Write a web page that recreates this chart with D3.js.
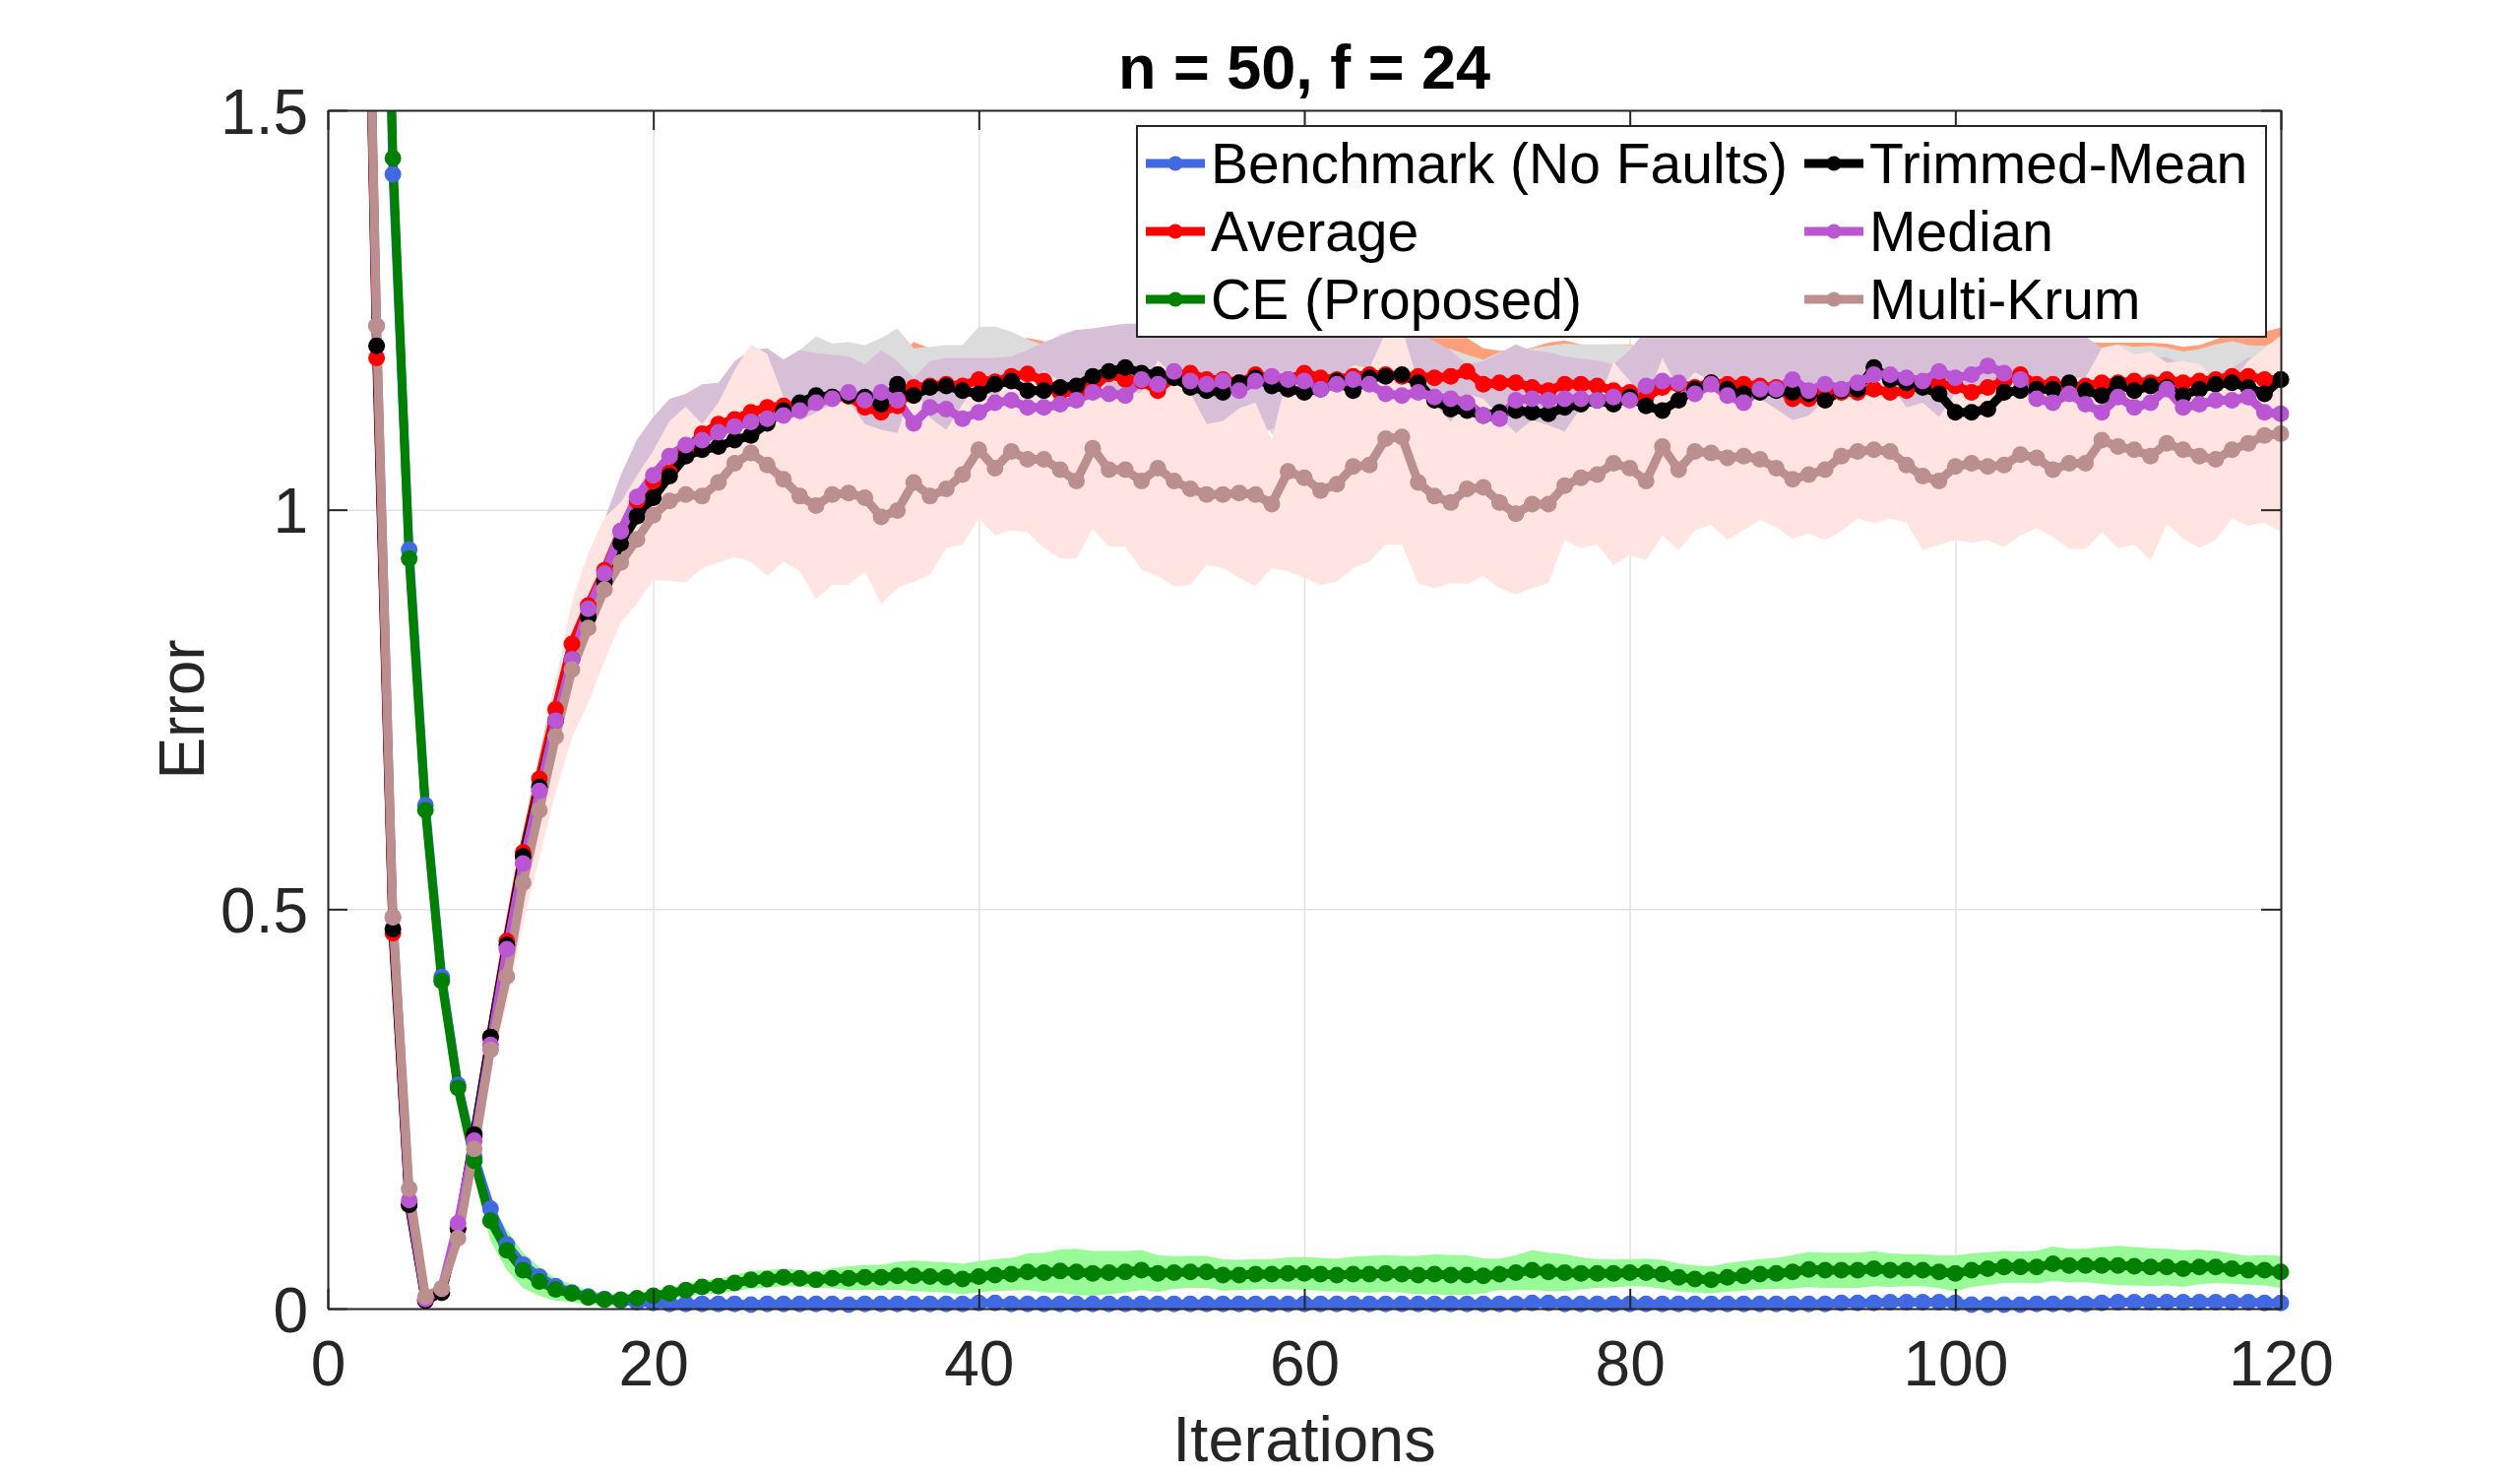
<!DOCTYPE html>
<html>
<head>
<meta charset="utf-8">
<script src="https://cdn.jsdelivr.net/npm/d3@7/dist/d3.min.js"></script>
<style>
  body { margin: 0; background: #fff; }
  text { font-family: "Liberation Sans", Arial, Helvetica, sans-serif; }
</style>
</head>
<body>
<div class="chart"></div>
<script>
// values, one per iteration (0..120)
const iterations = d3.range(0, 121);
const xTicks = [0, 20, 40, 60, 80, 100, 120];
const yTicks = [0, 0.5, 1, 1.5];
const yTickLabels = ['0', '0.5', '1', '1.5'];
const chartTitle = 'n = 50, f = 24';

const benchmark = [12, 7, 4, 2.3, 1.42, 0.95, 0.63, 0.415, 0.28, 0.19,
  0.125, 0.08, 0.055, 0.04, 0.028, 0.02, 0.015, 0.012, 0.01, 0.008,
  0.007, 0.006, 0.006, 0.006, 0.006, 0.006, 0.005, 0.006, 0.006, 0.006,
  0.006, 0.006, 0.005, 0.006, 0.006, 0.006, 0.006, 0.006, 0.006, 0.006,
  0.007, 0.007, 0.006, 0.006, 0.006, 0.006, 0.006, 0.006, 0.006, 0.006,
  0.006, 0.006, 0.006, 0.006, 0.006, 0.006, 0.006, 0.006, 0.006, 0.006,
  0.006, 0.006, 0.006, 0.006, 0.006, 0.006, 0.006, 0.006, 0.006, 0.006,
  0.006, 0.006, 0.006, 0.006, 0.007, 0.007, 0.006, 0.006, 0.006, 0.006,
  0.006, 0.006, 0.006, 0.006, 0.006, 0.006, 0.006, 0.006, 0.006, 0.006,
  0.006, 0.006, 0.006, 0.007, 0.007, 0.007, 0.008, 0.008, 0.008, 0.008,
  0.007, 0.005, 0.005, 0.005, 0.005, 0.006, 0.006, 0.006, 0.006, 0.007,
  0.008, 0.008, 0.008, 0.008, 0.008, 0.008, 0.008, 0.008, 0.008, 0.007,
  0.007];
const average = [9.0, 5.0, 2.2, 1.19, 0.47, 0.13, 0.01, 0.02, 0.10, 0.215,
  0.34, 0.46, 0.571, 0.663, 0.75, 0.832, 0.88, 0.924, 0.973, 1.011,
  1.036, 1.046, 1.075, 1.095, 1.107, 1.113, 1.122, 1.128, 1.13, 1.13,
  1.136, 1.141, 1.142, 1.128, 1.122, 1.13, 1.153, 1.155, 1.157, 1.155,
  1.163, 1.16, 1.167, 1.17, 1.161, 1.147, 1.147, 1.152, 1.17, 1.163,
  1.161, 1.149, 1.167, 1.171, 1.163, 1.163, 1.159, 1.169, 1.165, 1.163,
  1.171, 1.165, 1.163, 1.167, 1.169, 1.169, 1.167, 1.167, 1.165, 1.167,
  1.173, 1.157, 1.159, 1.159, 1.153, 1.149, 1.157, 1.157, 1.155, 1.149,
  1.147, 1.141, 1.153, 1.157, 1.153, 1.159, 1.157, 1.157, 1.155, 1.153,
  1.139, 1.139, 1.149, 1.147, 1.147, 1.151, 1.147, 1.149, 1.157, 1.157,
  1.155, 1.147, 1.153, 1.161, 1.169, 1.157, 1.157, 1.153, 1.155, 1.159,
  1.159, 1.161, 1.159, 1.163, 1.159, 1.161, 1.163, 1.167, 1.167, 1.163,
  1.163];
const ce = [12, 7, 4, 2.3, 1.44, 0.939, 0.624, 0.41, 0.276, 0.185,
  0.11, 0.073, 0.048, 0.034, 0.024, 0.019, 0.014, 0.011, 0.011, 0.013,
  0.016, 0.019, 0.023, 0.027, 0.028, 0.032, 0.036, 0.037, 0.039, 0.038,
  0.036, 0.038, 0.038, 0.039, 0.039, 0.041, 0.041, 0.04, 0.039, 0.037,
  0.04, 0.042, 0.043, 0.046, 0.045, 0.047, 0.046, 0.044, 0.045, 0.046,
  0.048, 0.044, 0.045, 0.046, 0.046, 0.042, 0.042, 0.043, 0.043, 0.044,
  0.044, 0.043, 0.042, 0.043, 0.043, 0.044, 0.043, 0.042, 0.043, 0.042,
  0.042, 0.041, 0.043, 0.045, 0.048, 0.046, 0.045, 0.044, 0.044, 0.044,
  0.045, 0.045, 0.043, 0.039, 0.037, 0.036, 0.039, 0.041, 0.043, 0.044,
  0.046, 0.049, 0.048, 0.048, 0.048, 0.05, 0.048, 0.048, 0.048, 0.046,
  0.044, 0.048, 0.05, 0.052, 0.052, 0.052, 0.056, 0.054, 0.054, 0.054,
  0.054, 0.053, 0.052, 0.052, 0.05, 0.052, 0.052, 0.05, 0.048, 0.048,
  0.046];
const trimmedMean = [9.0, 5.0, 2.2, 1.205, 0.475, 0.13, 0.01, 0.02, 0.10, 0.218,
  0.34, 0.455, 0.566, 0.653, 0.736, 0.813, 0.866, 0.91, 0.958, 0.992,
  1.015, 1.042, 1.067, 1.075, 1.079, 1.087, 1.093, 1.108, 1.124, 1.134,
  1.143, 1.141, 1.143, 1.141, 1.132, 1.157, 1.143, 1.153, 1.155, 1.149,
  1.145, 1.157, 1.161, 1.149, 1.149, 1.153, 1.155, 1.167, 1.173, 1.178,
  1.171, 1.169, 1.165, 1.153, 1.149, 1.147, 1.159, 1.165, 1.155, 1.151,
  1.147, 1.151, 1.161, 1.149, 1.165, 1.167, 1.169, 1.159, 1.137, 1.126,
  1.124, 1.118, 1.122, 1.124, 1.122, 1.12, 1.128, 1.132, 1.137, 1.132,
  1.141, 1.13, 1.124, 1.137, 1.151, 1.159, 1.151, 1.145, 1.147, 1.149,
  1.147, 1.145, 1.137, 1.149, 1.151, 1.178, 1.163, 1.159, 1.153, 1.145,
  1.122, 1.122, 1.126, 1.147, 1.149, 1.151, 1.151, 1.159, 1.149, 1.143,
  1.157, 1.149, 1.155, 1.153, 1.143, 1.151, 1.157, 1.159, 1.153, 1.145,
  1.163];
const median = [9.0, 5.0, 2.2, 1.23, 0.49, 0.136, 0.012, 0.025, 0.107, 0.21,
  0.33, 0.45, 0.557, 0.648, 0.736, 0.813, 0.876, 0.92, 0.973, 1.016,
  1.043, 1.067, 1.081, 1.087, 1.097, 1.104, 1.11, 1.114, 1.118, 1.124,
  1.134, 1.139, 1.147, 1.137, 1.147, 1.137, 1.108, 1.128, 1.126, 1.114,
  1.122, 1.134, 1.137, 1.128, 1.128, 1.132, 1.137, 1.147, 1.145, 1.143,
  1.163, 1.157, 1.173, 1.161, 1.157, 1.161, 1.149, 1.161, 1.167, 1.163,
  1.161, 1.151, 1.157, 1.163, 1.157, 1.145, 1.143, 1.147, 1.141, 1.139,
  1.134, 1.118, 1.114, 1.137, 1.139, 1.137, 1.139, 1.139, 1.137, 1.141,
  1.137, 1.155, 1.161, 1.159, 1.145, 1.157, 1.143, 1.134, 1.151, 1.151,
  1.163, 1.149, 1.157, 1.151, 1.159, 1.169, 1.169, 1.165, 1.161, 1.173,
  1.165, 1.169, 1.18, 1.171, 1.163, 1.139, 1.134, 1.145, 1.132, 1.122,
  1.141, 1.128, 1.134, 1.151, 1.128, 1.132, 1.137, 1.137, 1.141, 1.122,
  1.12];
const multiKrum = [9.0, 5.0, 2.2, 1.23, 0.49, 0.15, 0.015, 0.025, 0.088, 0.2,
  0.324, 0.416, 0.533, 0.624, 0.716, 0.8, 0.852, 0.9, 0.934, 0.963,
  0.993, 1.011, 1.019, 1.017, 1.034, 1.058, 1.071, 1.056, 1.038, 1.017,
  1.005, 1.019, 1.021, 1.015, 0.991, 0.999, 1.034, 1.017, 1.026, 1.044,
  1.075, 1.052, 1.073, 1.063, 1.063, 1.05, 1.036, 1.077, 1.05, 1.05,
  1.036, 1.052, 1.036, 1.026, 1.019, 1.019, 1.021, 1.019, 1.007, 1.048,
  1.04, 1.024, 1.032, 1.054, 1.056, 1.089, 1.091, 1.034, 1.017, 1.009,
  1.026, 1.028, 1.009, 0.995, 1.007, 1.007, 1.03, 1.04, 1.044, 1.058,
  1.052, 1.036, 1.079, 1.05, 1.073, 1.071, 1.065, 1.067, 1.063, 1.052,
  1.038, 1.044, 1.05, 1.067, 1.073, 1.075, 1.073, 1.056, 1.042, 1.036,
  1.054, 1.058, 1.054, 1.056, 1.069, 1.065, 1.05, 1.058, 1.058, 1.087,
  1.079, 1.075, 1.067, 1.083, 1.075, 1.067, 1.063, 1.075, 1.083, 1.093,
  1.095];

// spread (std) of each series, shaded as value +/- spread
const benchmarkStd = [0.01, 0.01, 0.01, 0.01, 0.01, 0.01, 0.01, 0.01, 0.01, 0.01,
  0.01, 0.008, 0.006, 0.005, 0.004, 0.003, 0.003, 0.002, 0.002, 0.002,
  0.002, 0.002, 0.002, 0.002, 0.002, 0.002, 0.002, 0.002, 0.002, 0.002,
  0.002, 0.002, 0.002, 0.002, 0.002, 0.002, 0.002, 0.002, 0.002, 0.002,
  0.002, 0.002, 0.002, 0.002, 0.002, 0.002, 0.002, 0.002, 0.002, 0.002,
  0.002, 0.002, 0.002, 0.002, 0.002, 0.002, 0.002, 0.002, 0.002, 0.002,
  0.002, 0.002, 0.002, 0.002, 0.002, 0.002, 0.002, 0.002, 0.002, 0.002,
  0.002, 0.002, 0.002, 0.002, 0.002, 0.002, 0.002, 0.002, 0.002, 0.002,
  0.002, 0.002, 0.002, 0.002, 0.002, 0.002, 0.002, 0.002, 0.002, 0.002,
  0.002, 0.002, 0.002, 0.002, 0.002, 0.002, 0.002, 0.002, 0.002, 0.002,
  0.002, 0.002, 0.002, 0.002, 0.002, 0.002, 0.002, 0.002, 0.002, 0.002,
  0.002, 0.002, 0.002, 0.002, 0.002, 0.002, 0.002, 0.002, 0.002, 0.002,
  0.002];
const averageStd = [0.01, 0.01, 0.01, 0.01, 0.01, 0.005, 0.005, 0.005, 0.005, 0.005,
  0.005, 0.015, 0.02, 0.03, 0.035, 0.04, 0.045, 0.05, 0.05, 0.055,
  0.055, 0.055, 0.05, 0.05, 0.05, 0.055, 0.06, 0.06, 0.055, 0.05,
  0.05, 0.05, 0.05, 0.055, 0.06, 0.06, 0.057, 0.047, 0.045, 0.045,
  0.045, 0.045, 0.045, 0.045, 0.05, 0.055, 0.055, 0.05, 0.05, 0.05,
  0.05, 0.05, 0.05, 0.05, 0.05, 0.05, 0.05, 0.05, 0.05, 0.05,
  0.05, 0.05, 0.05, 0.05, 0.05, 0.05, 0.05, 0.05, 0.05, 0.048,
  0.042, 0.045, 0.04, 0.04, 0.05, 0.06, 0.055, 0.05, 0.05, 0.058,
  0.06, 0.06, 0.05, 0.05, 0.05, 0.05, 0.05, 0.05, 0.05, 0.05,
  0.05, 0.05, 0.05, 0.05, 0.05, 0.05, 0.05, 0.05, 0.05, 0.05,
  0.05, 0.05, 0.05, 0.05, 0.05, 0.05, 0.05, 0.05, 0.055, 0.05,
  0.05, 0.048, 0.05, 0.045, 0.045, 0.045, 0.05, 0.055, 0.058, 0.06,
  0.065];
const ceStd = [0.01, 0.01, 0.01, 0.01, 0.01, 0.01, 0.01, 0.012, 0.015, 0.02,
  0.025, 0.025, 0.022, 0.018, 0.014, 0.011, 0.009, 0.008, 0.007, 0.006,
  0.006, 0.007, 0.008, 0.0085, 0.009, 0.01, 0.011, 0.011, 0.011, 0.0105,
  0.01, 0.0125, 0.015, 0.0155, 0.016, 0.0175, 0.019, 0.019, 0.019, 0.019,
  0.0195, 0.02, 0.0205, 0.023, 0.025, 0.027, 0.029, 0.028, 0.027, 0.026,
  0.025, 0.023, 0.0205, 0.02, 0.02, 0.0195, 0.019, 0.019, 0.019, 0.02,
  0.0205, 0.0205, 0.0205, 0.022, 0.023, 0.023, 0.023, 0.024, 0.025, 0.025,
  0.0246, 0.022, 0.0195, 0.022, 0.025, 0.024, 0.023, 0.02, 0.018, 0.0175,
  0.017, 0.0175, 0.018, 0.0175, 0.017, 0.017, 0.018, 0.0185, 0.019, 0.0195,
  0.021, 0.022, 0.022, 0.022, 0.022, 0.022, 0.021, 0.02, 0.02, 0.0205,
  0.0225, 0.021, 0.0205, 0.02, 0.0195, 0.0205, 0.0215, 0.021, 0.021, 0.023,
  0.0246, 0.024, 0.0236, 0.023, 0.023, 0.0215, 0.02, 0.019, 0.018, 0.019,
  0.02];
const trimmedMeanStd = [0.01, 0.01, 0.01, 0.01, 0.01, 0.005, 0.005, 0.005, 0.005, 0.005,
  0.005, 0.015, 0.025, 0.03, 0.04, 0.045, 0.05, 0.055, 0.06, 0.065,
  0.07, 0.07, 0.065, 0.07, 0.075, 0.095, 0.103, 0.094, 0.064, 0.066,
  0.074, 0.067, 0.067, 0.065, 0.083, 0.07, 0.059, 0.051, 0.051, 0.057,
  0.084, 0.072, 0.062, 0.064, 0.057, 0.067, 0.07, 0.05, 0.045, 0.045,
  0.05, 0.05, 0.055, 0.06, 0.06, 0.065, 0.055, 0.05, 0.06, 0.06,
  0.065, 0.06, 0.055, 0.06, 0.05, 0.05, 0.05, 0.055, 0.065, 0.075,
  0.07, 0.07, 0.075, 0.075, 0.08, 0.085, 0.08, 0.075, 0.07, 0.075,
  0.065, 0.07, 0.07, 0.06, 0.055, 0.05, 0.055, 0.06, 0.06, 0.06,
  0.06, 0.06, 0.065, 0.06, 0.06, 0.04, 0.045, 0.05, 0.055, 0.06,
  0.075, 0.075, 0.07, 0.06, 0.055, 0.055, 0.055, 0.05, 0.055, 0.06,
  0.05, 0.055, 0.05, 0.05, 0.055, 0.05, 0.05, 0.052, 0.053, 0.06,
  0.05];
const medianStd = [0.01, 0.01, 0.01, 0.01, 0.01, 0.005, 0.005, 0.005, 0.005, 0.005,
  0.01, 0.02, 0.03, 0.04, 0.05, 0.06, 0.064, 0.068, 0.07, 0.072,
  0.073, 0.072, 0.064, 0.07, 0.062, 0.082, 0.09, 0.088, 0.07, 0.076,
  0.062, 0.055, 0.045, 0.045, 0.053, 0.049, 0.057, 0.058, 0.064, 0.076,
  0.068, 0.056, 0.055, 0.072, 0.082, 0.085, 0.088, 0.08, 0.085, 0.09,
  0.07, 0.075, 0.065, 0.07, 0.075, 0.065, 0.08, 0.07, 0.065, 0.07,
  0.07, 0.08, 0.075, 0.07, 0.075, 0.085, 0.08, 0.075, 0.07, 0.06,
  0.048, 0.068, 0.082, 0.07, 0.06, 0.06, 0.053, 0.05, 0.05, 0.041,
  0.063, 0.07, 0.07, 0.075, 0.08, 0.07, 0.08, 0.085, 0.075, 0.07,
  0.065, 0.075, 0.07, 0.075, 0.07, 0.065, 0.065, 0.07, 0.07, 0.065,
  0.07, 0.065, 0.06, 0.065, 0.07, 0.085, 0.09, 0.08, 0.085, 0.08,
  0.051, 0.06, 0.056, 0.04, 0.054, 0.045, 0.032, 0.04, 0.05, 0.065,
  0.07];
const multiKrumStd = [0.01, 0.01, 0.01, 0.01, 0.01, 0.005, 0.005, 0.005, 0.01, 0.01,
  0.02, 0.035, 0.05, 0.06, 0.07, 0.085, 0.094, 0.09, 0.075, 0.08,
  0.081, 0.10, 0.11, 0.09, 0.10, 0.117, 0.136, 0.139, 0.103, 0.094,
  0.117, 0.113, 0.115, 0.092, 0.109, 0.097, 0.124, 0.098, 0.074, 0.088,
  0.086, 0.084, 0.099, 0.091, 0.111, 0.111, 0.097, 0.101, 0.096, 0.096,
  0.111, 0.135, 0.132, 0.12, 0.088, 0.092, 0.106, 0.115, 0.08, 0.125,
  0.125, 0.118, 0.122, 0.127, 0.121, 0.133, 0.135, 0.126, 0.115, 0.101,
  0.119, 0.111, 0.107, 0.101, 0.105, 0.099, 0.068, 0.088, 0.088, 0.127,
  0.109, 0.099, 0.111, 0.101, 0.099, 0.09, 0.103, 0.092, 0.076, 0.074,
  0.074, 0.074, 0.088, 0.094, 0.084, 0.092, 0.084, 0.072, 0.092, 0.08,
  0.092, 0.099, 0.092, 0.103, 0.101, 0.088, 0.084, 0.107, 0.107, 0.115,
  0.127, 0.119, 0.131, 0.101, 0.111, 0.115, 0.101, 0.086, 0.103, 0.109,
  0.123];

const seriesNames = ['Benchmark (No Faults)', 'Average', 'CE (Proposed)', 'Trimmed-Mean', 'Median', 'Multi-Krum'];
const lineColors = ['#4169E1', '#FF0000', '#008000', '#000000', '#BA55D3', '#BC8F8F'];
const bandColors = ['#ADD8E6', '#FFA07A', '#98FB98', '#DCDCDC', '#D8BFD8', '#FFE4E1'];

// put the pieces together, legend is column-major like matlab
const series = [
  {name: seriesNames[0], values: benchmark, spread: benchmarkStd, line: lineColors[0], band: bandColors[0]},
  {name: seriesNames[1], values: average, spread: averageStd, line: lineColors[1], band: bandColors[1]},
  {name: seriesNames[2], values: ce, spread: ceStd, line: lineColors[2], band: bandColors[2]},
  {name: seriesNames[3], values: trimmedMean, spread: trimmedMeanStd, line: lineColors[3], band: bandColors[3]},
  {name: seriesNames[4], values: median, spread: medianStd, line: lineColors[4], band: bandColors[4]},
  {name: seriesNames[5], values: multiKrum, spread: multiKrumStd, line: lineColors[5], band: bandColors[5]}
];

const margin = ({top: 112, right: 243, bottom: 169, left: 333});
const W = 2560, H = 1498;
const width = W - margin.left - margin.right;
const height = H - margin.top - margin.bottom;
const ink = '#262626';

const svg = d3.select('.chart')
  .append('svg')
  .attr('width', W)
  .attr('height', H)
  .style('display', 'block');

const g = svg.append('g')
  .attr('transform', `translate(${margin.left},${margin.top})`);

const x = d3.scaleLinear().domain([0, 120]).range([0, width]);
const y = d3.scaleLinear().domain([0, 1.5]).range([height, 0]);

svg.append('defs').append('clipPath')
  .attr('id', 'plot-clip')
  .append('rect')
  .attr('width', width)
  .attr('height', height);

// grid first so the shading sits on top of it
g.append('g')
  .attr('class', 'grid-x')
  .attr('transform', `translate(0,${height})`)
  .call(d3.axisBottom(x).tickValues(xTicks).tickSize(-height).tickFormat(''))
  .call(a => a.select('.domain').remove())
  .call(a => a.selectAll('line').attr('stroke', '#e2e2e2').attr('stroke-width', 1.5));

g.append('g')
  .attr('class', 'grid-y')
  .call(d3.axisLeft(y).tickValues(yTicks).tickSize(-width).tickFormat(''))
  .call(a => a.select('.domain').remove())
  .call(a => a.selectAll('line').attr('stroke', '#e2e2e2').attr('stroke-width', 1.5));

const plot = g.append('g').attr('clip-path', 'url(#plot-clip)');

const band = d3.area()
  .x((d, i) => x(iterations[i]))
  .y0(d => y(d.lo))
  .y1(d => y(d.hi));

series.forEach(s => {
  const pts = s.values.map((v, i) => ({lo: v - s.spread[i], hi: v + s.spread[i]}));
  plot.append('path')
    .datum(pts)
    .attr('fill', s.band)
    .attr('stroke', 'none')
    .attr('d', band);
});

const line = d3.line()
  .x((d, i) => x(iterations[i]))
  .y(d => y(d));

const lineWidth = 9;
const dotR = 8.5;

series.forEach(s => {
  plot.append('path')
    .datum(s.values)
    .attr('fill', 'none')
    .attr('stroke', s.line)
    .attr('stroke-width', lineWidth)
    .attr('stroke-linejoin', 'round')
    .attr('d', line);

  // matlab draws a marker for every point inside the limits, not clipped at the box
  g.append('g')
    .selectAll('circle')
    .data(s.values.map((v, i) => ({it: iterations[i], v: v})).filter(d => d.v <= 1.5))
    .enter()
    .append('circle')
    .attr('cx', d => x(d.it))
    .attr('cy', d => y(d.v))
    .attr('r', dotR)
    .attr('fill', s.line);
});

// axes: ticks point inward on all four sides
const fontSize = 64;

const xAxis = g.append('g')
  .attr('transform', `translate(0,${height})`)
  .call(d3.axisBottom(x).tickValues(xTicks).tickSize(-20).tickSizeOuter(0).tickPadding(33));
const yAxis = g.append('g')
  .call(d3.axisLeft(y).tickValues(yTicks).tickSize(-20).tickSizeOuter(0).tickPadding(20)
    .tickFormat((d, i) => yTickLabels[i]));
const topAxis = g.append('g')
  .call(d3.axisTop(x).tickValues(xTicks).tickSize(-20).tickSizeOuter(0).tickFormat(''));
const rightAxis = g.append('g')
  .attr('transform', `translate(${width},0)`)
  .call(d3.axisRight(y).tickValues(yTicks).tickSize(-20).tickSizeOuter(0).tickFormat(''));

[xAxis, yAxis, topAxis, rightAxis].forEach(a => {
  a.select('.domain').attr('stroke', ink).attr('stroke-width', 2);
  a.selectAll('.tick line').attr('stroke', ink).attr('stroke-width', 2);
  a.selectAll('.tick text')
    .attr('fill', ink)
    .style('font-family', '"Liberation Sans", Arial, Helvetica, sans-serif')
    .style('font-size', fontSize + 'px');
});
yAxis.selectAll('.tick text').attr('dy', '0.36em');

// labels + title
svg.append('text')
  .attr('x', margin.left + width / 2)
  .attr('y', 1484)
  .attr('text-anchor', 'middle')
  .attr('fill', ink)
  .style('font-size', '65px')
  .text('Iterations');

svg.append('text')
  .attr('transform', `translate(207,${margin.top + height / 2}) rotate(-90)`)
  .attr('text-anchor', 'middle')
  .attr('fill', ink)
  .style('font-size', '64px')
  .text('Error');

svg.append('text')
  .attr('x', margin.left + width / 2)
  .attr('y', 90)
  .attr('text-anchor', 'middle')
  .attr('fill', '#000')
  .style('font-size', '63px')
  .style('font-weight', 'bold')
  .text(chartTitle);

// legend box, two columns of three
const legend = svg.append('g').attr('class', 'legend');
legend.append('rect')
  .attr('x', 1155)
  .attr('y', 128)
  .attr('width', 2302 - 1155)
  .attr('height', 342 - 128)
  .attr('fill', '#fff')
  .attr('stroke', ink)
  .attr('stroke-width', 2);

const colX = [1164, 1833];
const rowY = [166, 235, 304];

series.forEach((s, i) => {
  const cx = colX[Math.floor(i / 3)];
  const cy = rowY[i % 3];
  const item = legend.append('g').attr('transform', `translate(${cx},${cy})`);
  item.append('line')
    .attr('x1', 0).attr('x2', 60)
    .attr('stroke', s.line)
    .attr('stroke-width', 9);
  item.append('circle')
    .attr('cx', 30)
    .attr('r', 7.5)
    .attr('fill', s.line);
  item.append('text')
    .attr('x', 66)
    .attr('y', 20)
    .attr('fill', '#000')
    .style('font-size', '57px')
    .text(s.name);
});
</script>
</body>
</html>
